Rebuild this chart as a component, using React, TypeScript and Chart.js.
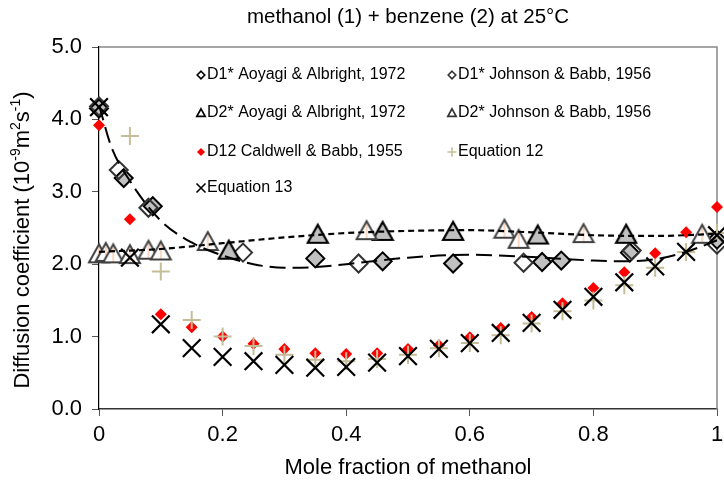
import React, { useEffect, useRef } from 'react';
import { Chart, registerables } from 'chart.js';

Chart.register(...registerables);

// ---------- data ----------
const d1AoyagiX = [0, 0.04, 0.087, 0.35, 0.459, 0.573, 0.717, 0.748, 0.859, 1.0];
const d1AoyagiY = [4.15, 3.19, 2.8, 2.08, 2.04, 2.01, 2.03, 2.05, 2.16, 2.34];

const d1JohnsonX = [0, 0.032, 0.08, 0.233, 0.42, 0.687, 0.862, 1.0];
const d1JohnsonY = [4.18, 3.3, 2.78, 2.16, 2.01, 2.02, 2.19, 2.27];

const d2AoyagiX = [0.21, 0.354, 0.459, 0.573, 0.71, 0.853];
const d2AoyagiY = [2.2, 2.42, 2.46, 2.46, 2.41, 2.42];

const d2JohnsonX = [0, 0.011, 0.023, 0.05, 0.08, 0.1, 0.176, 0.433, 0.656, 0.679, 0.784, 0.976];
const d2JohnsonY = [2.15, 2.17, 2.15, 2.14, 2.2, 2.19, 2.32, 2.47, 2.49, 2.35, 2.43, 2.42];

const d12X = [0, 0.05, 0.1, 0.15, 0.2, 0.25, 0.3, 0.35, 0.4, 0.45, 0.5, 0.55, 0.6, 0.65, 0.7, 0.75, 0.8, 0.85, 0.9, 0.95, 1.0];
const d12Y = [3.92, 2.62, 1.31, 1.13, 1.0, 0.9, 0.83, 0.77, 0.76, 0.77, 0.83, 0.88, 0.99, 1.12, 1.27, 1.46, 1.67, 1.89, 2.15, 2.44, 2.79];

const eq12X = [0.05, 0.1, 0.15, 0.2, 0.25, 0.3, 0.35, 0.4, 0.45, 0.5, 0.55, 0.6, 0.65, 0.7, 0.75, 0.8, 0.85, 0.9, 0.95, 1.0];
const eq12Y = [3.77, 1.9, 1.23, 1.0, 0.87, 0.75, 0.68, 0.66, 0.69, 0.75, 0.84, 0.91, 1.02, 1.18, 1.35, 1.5, 1.71, 1.95, 2.17, 2.43];

const eq13X = [0, 0.05, 0.1, 0.15, 0.2, 0.25, 0.3, 0.35, 0.4, 0.45, 0.5, 0.55, 0.6, 0.65, 0.7, 0.75, 0.8, 0.85, 0.9, 0.95, 1.0];
const eq13Y = [4.17, 2.09, 1.17, 0.84, 0.72, 0.66, 0.61, 0.57, 0.58, 0.64, 0.73, 0.83, 0.91, 1.05, 1.19, 1.37, 1.55, 1.75, 1.97, 2.17, 2.4];

// trend curves (long dash: D1*, short dash: D2*)
const fitD1X = [0, 0.02, 0.05, 0.1, 0.15, 0.2, 0.25, 0.3, 0.35, 0.4, 0.5, 0.6, 0.7, 0.8, 0.85, 0.9, 0.95, 1.0];
const fitD1Y = [4.2, 3.62, 3.15, 2.6, 2.3, 2.12, 2.0, 1.95, 1.96, 2.0, 2.09, 2.13, 2.1, 2.05, 2.04, 2.07, 2.17, 2.33];

const fitD2X = [0, 0.1, 0.2, 0.3, 0.4, 0.5, 0.6, 0.7, 0.8, 0.9, 1.0];
const fitD2Y = [2.17, 2.21, 2.29, 2.37, 2.43, 2.46, 2.47, 2.44, 2.4, 2.39, 2.42];

const xTicks = [0, 0.2, 0.4, 0.6, 0.8, 1];
const xTickLabels = ['0', '0.2', '0.4', '0.6', '0.8', '1'];
const yTickLabels = ['0.0', '1.0', '2.0', '3.0', '4.0', '5.0'];

const legendLabels = [
  'D1* Aoyagi & Albright, 1972',
  'D1* Johnson & Babb, 1956',
  'D2* Aoyagi & Albright, 1972',
  'D2* Johnson & Babb, 1956',
  'D12 Caldwell & Babb, 1955',
  'Equation 12',
  'Equation 13',
];

const titleText = 'methanol (1) + benzene (2) at 25°C';
const xTitleText = 'Mole fraction of methanol';

const FONT = "'Liberation Sans', Arial, sans-serif";
const GRAY = '#c0c0c0';
const TAN = '#c4bd97';
const RED = '#ff0000';

const pts = (xs: number[], ys: number[]) => xs.map((x, i) => ({ x, y: ys[i] }));

function makeTriangle(fill: string, stroke: string, inner: string | null, lw: number) {
  const c = document.createElement('canvas');
  c.width = 24;
  c.height = 24;
  const ctx = c.getContext('2d')!;
  const cx = 12, top = 3, base = 21, half = 10;
  ctx.beginPath();
  ctx.moveTo(cx, top);
  ctx.lineTo(cx + half, base);
  ctx.lineTo(cx - half, base);
  ctx.closePath();
  ctx.fillStyle = fill;
  ctx.fill();
  if (inner) {
    ctx.strokeStyle = inner;
    ctx.lineWidth = 1;
    ctx.beginPath();
    ctx.moveTo(cx, top + 3);
    ctx.lineTo(cx, base - 1);
    ctx.stroke();
  }
  ctx.beginPath();
  ctx.moveTo(cx, top);
  ctx.lineTo(cx + half, base);
  ctx.lineTo(cx - half, base);
  ctx.closePath();
  ctx.lineJoin = 'miter';
  ctx.strokeStyle = stroke;
  ctx.lineWidth = lw;
  ctx.stroke();
  return c;
}

function drawMarker(ctx: CanvasRenderingContext2D, kind: number, x: number, y: number) {
  ctx.save();
  ctx.lineJoin = 'miter';
  if (kind === 0 || kind === 1) {
    const r = 3.8;
    ctx.beginPath();
    ctx.moveTo(x, y - r);
    ctx.lineTo(x + r, y);
    ctx.lineTo(x, y + r);
    ctx.lineTo(x - r, y);
    ctx.closePath();
    ctx.fillStyle = '#fff';
    ctx.fill();
    ctx.lineWidth = 1.6;
    ctx.strokeStyle = kind === 0 ? '#000' : '#333';
    ctx.stroke();
  } else if (kind === 2 || kind === 3) {
    ctx.beginPath();
    ctx.moveTo(x, y - 4.2);
    ctx.lineTo(x + 4.2, y + 3.3);
    ctx.lineTo(x - 4.2, y + 3.3);
    ctx.closePath();
    ctx.fillStyle = '#fff';
    ctx.fill();
    ctx.lineWidth = 1.7;
    ctx.strokeStyle = kind === 2 ? '#000' : '#333';
    ctx.stroke();
  } else if (kind === 4) {
    const r = 4;
    ctx.beginPath();
    ctx.moveTo(x, y - r);
    ctx.lineTo(x + r, y);
    ctx.lineTo(x, y + r);
    ctx.lineTo(x - r, y);
    ctx.closePath();
    ctx.fillStyle = RED;
    ctx.fill();
  } else if (kind === 5) {
    ctx.strokeStyle = TAN;
    ctx.lineWidth = 1.6;
    ctx.beginPath();
    ctx.moveTo(x - 4.5, y);
    ctx.lineTo(x + 4.5, y);
    ctx.moveTo(x, y - 4.5);
    ctx.lineTo(x, y + 4.5);
    ctx.stroke();
  } else {
    ctx.strokeStyle = '#000';
    ctx.lineWidth = 1.6;
    ctx.beginPath();
    ctx.moveTo(x - 4.5, y - 4.5);
    ctx.lineTo(x + 4.5, y + 4.5);
    ctx.moveTo(x + 4.5, y - 4.5);
    ctx.lineTo(x - 4.5, y + 4.5);
    ctx.stroke();
  }
  ctx.restore();
}

const overlayPlugin = {
  id: 'overlay',
  beforeDatasetsDraw(chart: any) {
    const { ctx, chartArea: a } = chart;
    ctx.save();
    ctx.strokeStyle = '#888';
    ctx.lineWidth = 1.5;
    ctx.beginPath();
    ctx.moveTo(a.left, a.top);
    ctx.lineTo(a.right, a.top);
    ctx.lineTo(a.right, a.bottom);
    ctx.stroke();
    ctx.restore();
  },
  afterDraw(chart: any) {
    const { ctx, chartArea: a } = chart;
    ctx.save();
    ctx.fillStyle = '#000';
    ctx.textBaseline = 'middle';

    // main title
    ctx.font = `20.5px ${FONT}`;
    ctx.textAlign = 'center';
    ctx.fillText(titleText, (a.left + a.right) / 2, 17);

    // x title
    ctx.font = `22px ${FONT}`;
    ctx.fillText(xTitleText, (a.left + a.right) / 2, 468);

    // y title with superscripts
    const segs: [string, boolean][] = [
      ['Diffusion coefficient (10', false],
      ['-9', true],
      ['m', false],
      ['2', true],
      ['s', false],
      ['-1', true],
      [')', false],
    ];
    const normal = `22px ${FONT}`;
    const sup = `14px ${FONT}`;
    let total = 0;
    for (const [t, s] of segs) {
      ctx.font = s ? sup : normal;
      total += ctx.measureText(t).width;
    }
    ctx.save();
    ctx.translate(23, 240);
    ctx.rotate(-Math.PI / 2);
    ctx.textAlign = 'left';
    let px = -total / 2;
    for (const [t, s] of segs) {
      ctx.font = s ? sup : normal;
      ctx.fillText(t, px, s ? -7 : 0);
      px += ctx.measureText(t).width;
    }
    ctx.restore();

    // legend
    ctx.font = `16px ${FONT}`;
    ctx.textAlign = 'left';
    const colMarker = [201, 452];
    const rows = [75, 113, 152, 188];
    legendLabels.forEach((lab, i) => {
      const col = i % 2;
      const row = Math.floor(i / 2);
      const mx = colMarker[col];
      const my = rows[row];
      drawMarker(ctx, i, mx, my);
      ctx.fillStyle = '#000';
      ctx.fillText(lab, mx + 6, my);
    });
    ctx.restore();
  },
};

export default function App() {
  const ref = useRef<HTMLCanvasElement | null>(null);

  useEffect(() => {
    if (!ref.current) return;
    const triGray = makeTriangle(GRAY, '#000', null, 2.2);
    const triOpen = makeTriangle('#fff', '#404040', '#f4b183', 2);

    const common = { showLine: false, clip: false as any };
    const chart = new Chart(ref.current, {
      type: 'scatter',
      data: {
        datasets: [
          {
            ...common,
            label: legendLabels[0],
            data: pts(d1AoyagiX, d1AoyagiY),
            pointStyle: 'rectRot',
            pointRadius: 9,
            backgroundColor: GRAY,
            borderColor: '#000',
            borderWidth: 2,
            order: 7,
          },
          {
            ...common,
            label: legendLabels[1],
            data: pts(d1JohnsonX, d1JohnsonY),
            pointStyle: 'rectRot',
            pointRadius: 9,
            backgroundColor: 'rgba(255,255,255,0)',
            borderColor: '#333',
            borderWidth: 2,
            order: 6,
          },
          {
            ...common,
            label: legendLabels[2],
            data: pts(d2AoyagiX, d2AoyagiY),
            pointStyle: triGray,
            order: 5,
          },
          {
            ...common,
            label: legendLabels[3],
            data: pts(d2JohnsonX, d2JohnsonY),
            pointStyle: triOpen,
            order: 4,
          },
          {
            ...common,
            label: legendLabels[4],
            data: pts(d12X, d12Y),
            pointStyle: 'rectRot',
            pointRadius: 6,
            backgroundColor: RED,
            borderColor: RED,
            borderWidth: 0,
            order: 3,
          },
          {
            ...common,
            label: legendLabels[5],
            data: pts(eq12X, eq12Y),
            pointStyle: 'cross',
            pointRadius: 9,
            backgroundColor: TAN,
            borderColor: TAN,
            borderWidth: 2,
            order: 2,
          },
          {
            ...common,
            label: legendLabels[6],
            data: pts(eq13X, eq13Y),
            pointStyle: 'crossRot',
            pointRadius: 12.5,
            backgroundColor: '#000',
            borderColor: '#000',
            borderWidth: 2.2,
            order: 1,
          },
          {
            label: 'fitD1',
            data: pts(fitD1X, fitD1Y),
            showLine: true,
            pointRadius: 0,
            borderColor: '#000',
            borderWidth: 2,
            borderDash: [16, 7],
            cubicInterpolationMode: 'monotone',
            order: 0,
          },
          {
            label: 'fitD2',
            data: pts(fitD2X, fitD2Y),
            showLine: true,
            pointRadius: 0,
            borderColor: '#000',
            borderWidth: 2.2,
            borderDash: [6, 4],
            cubicInterpolationMode: 'monotone',
            order: 0,
          },
        ] as any,
      },
      options: {
        animation: false,
        responsive: false,
        events: [],
        layout: { autoPadding: false, padding: { left: 0, right: 7, top: 47, bottom: 0 } },
        plugins: {
          legend: { display: false },
          tooltip: { enabled: false },
          title: { display: false },
        },
        scales: {
          x: {
            type: 'linear',
            min: 0,
            max: 1,
            afterBuildTicks: (s: any) => {
              s.ticks = xTicks.map((v) => ({ value: v }));
            },
            afterFit: (s: any) => {
              s.height = 79;
              s.paddingRight = 0;
              s.paddingLeft = 0;
            },
            ticks: {
              color: '#000',
              font: { family: FONT, size: 22 },
              padding: 6,
              maxRotation: 0,
              callback: (v: any) => {
                const i = xTicks.indexOf(Number(v));
                return i >= 0 ? xTickLabels[i] : '';
              },
            },
            grid: { display: true, drawOnChartArea: false, drawTicks: true, tickLength: 7, color: '#555' },
            border: { display: true, color: '#333', width: 1.5 },
          },
          y: {
            type: 'linear',
            min: 0,
            max: 5,
            ticks: {
              stepSize: 1,
              color: '#000',
              font: { family: FONT, size: 22 },
              padding: 10,
              callback: (v: any) => yTickLabels[Math.round(Number(v))] ?? '',
            },
            afterFit: (s: any) => {
              s.width = 99;
              s.paddingTop = 0;
              s.paddingBottom = 0;
            },
            grid: { display: true, drawOnChartArea: false, drawTicks: true, tickLength: 7, color: '#555' },
            border: { display: true, color: '#000', width: 1.2 },
          },
        },
      } as any,
      plugins: [overlayPlugin],
    });
    return () => chart.destroy();
  }, []);

  return (
    <div style={{ position: 'absolute', left: 0, top: 0, width: 724, height: 488, background: '#fff' }}>
      <canvas ref={ref} width={724} height={488} />
    </div>
  );
}
